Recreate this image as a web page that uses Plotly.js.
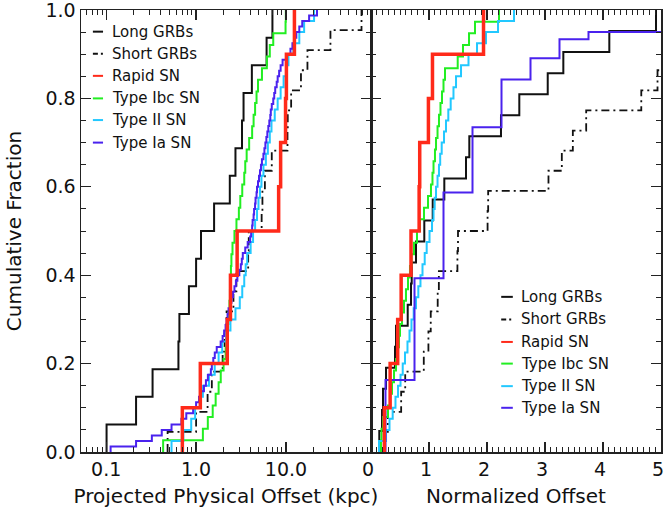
<!DOCTYPE html>
<html>
<head>
<meta charset="utf-8">
<script src="https://cdn.plot.ly/plotly-3.0.1.min.js"></script>
<style>html,body{margin:0;padding:0;background:#fff;}#chart{width:665px;height:515px;}</style>
</head>
<body>
<div id="chart"></div>
<script>
// ---------- DATA ----------
var seriesNames = ['Long GRBs', 'Short GRBs', 'Rapid SN', 'Type Ibc SN', 'Type II SN', 'Type Ia SN'];

// Left panel: projected physical offset (kpc), sorted values
var leftLong = [0.101, 0.215, 0.328, 0.636, 0.652, 0.832, 1.00, 1.134, 1.585, 2.37, 2.74, 3.24, 3.37, 4.17, 6.08, 7.06];
var leftShort = [0.482, 1.00, 1.342, 1.496, 1.973, 2.075, 2.182, 2.602, 2.806, 3.795, 3.85, 5.358, 5.466, 5.821, 6.942, 10.38, 10.45, 11.40, 14.66, 17.31, 31.19, 69.1];
var leftRapid = [0.703, 1.114, 2.22, 2.41, 2.86, 8.28, 8.71, 9.88, 10.1, 12.4];
var leftIbc = [0.430, 1.19, 1.35, 1.53, 1.65, 1.78, 1.88, 2.02, 2.13, 2.18, 2.24, 2.29, 2.35, 2.38, 2.41, 2.44, 2.47, 2.54, 2.67, 2.81, 2.99, 3.10, 3.26, 3.43, 3.52, 3.65, 3.89, 4.20, 4.36, 4.53, 4.70, 4.88, 5.40, 6.12, 6.60, 7.21, 9.88, 9.95];
var leftII = [0.533, 0.721, 0.882, 0.975, 1.106, 1.19, 1.39, 1.61, 1.78, 1.95, 2.15, 2.41, 2.74, 3.06, 3.26, 3.43, 3.56, 3.70, 4.04, 4.30, 4.53, 4.76, 4.94, 5.13, 5.33, 5.61, 5.97, 6.28, 6.60, 6.89, 7.49, 8.07, 8.71, 9.40, 10.0, 10.65, 12.08, 14.05, 15.9, 20.5];
var leftIa = [0.112, 0.215, 0.322, 0.415, 0.533, 0.686, 0.778, 0.927, 1.0, 1.078,
  1.134, 1.223, 1.286, 1.352, 1.459, 1.496, 1.553, 1.613, 1.696, 1.876,
  1.973, 2.049, 2.128, 2.182, 2.237, 2.295, 2.383, 2.474, 2.570, 2.669,
  2.771, 2.877, 3.026, 3.143, 3.223, 3.305, 3.519, 3.748, 3.992, 4.093,
  4.198, 4.250, 4.358, 4.413, 4.526, 4.583, 4.700, 4.760, 4.881, 5.006,
  5.133, 5.264, 5.398, 5.605, 5.748, 5.894, 6.044, 6.198, 6.357, 6.519,
  6.685, 6.770, 6.942, 7.210, 7.394, 7.582, 7.874, 8.074, 8.385, 8.708,
  9.157, 10.13, 11.20, 11.78, 12.38, 13.02, 14.05, 15.15, 18.06, 22.10];

// Right panel: normalized offset, sorted values
var rightLong = [0.143, 0.19, 0.207, 0.259, 0.414, 0.431, 0.633, 0.690, 0.702, 0.776, 0.919, 1.064, 1.264, 1.638, 1.695, 2.241, 2.557, 3.047, 3.316, 4.109, 4.914];
var rightShort = [0.24, 0.29, 0.52, 0.59, 0.91, 0.99, 1.03, 1.15, 1.17, 1.49, 1.50, 2.01, 2.02, 3.06, 3.29, 3.48, 3.71, 4.66, 4.94, 5.8, 7.5, 12.0];
var rightRapid = [0.23, 0.33, 0.46, 0.52, 0.69, 0.83, 0.84, 0.99, 1.06, 1.94];
var rightIbc = [0.172, 0.181, 0.207, 0.293, 0.328, 0.362, 0.397, 0.431, 0.457, 0.483, 0.5, 0.534, 0.569, 0.603, 0.638, 0.672, 0.698, 0.741, 0.793, 0.845, 0.914, 0.983, 1.034, 1.06, 1.078, 1.103, 1.121, 1.147, 1.172, 1.198, 1.224, 1.25, 1.276, 1.495, 1.586, 1.69, 1.793, 2.207];
var rightII = [0.138, 0.259, 0.319, 0.374, 0.422, 0.466, 0.509, 0.547, 0.586, 0.629, 0.664, 0.698, 0.736, 0.776, 0.816, 0.853, 0.888, 0.926, 0.960, 1.009, 1.052, 1.078, 1.098, 1.121, 1.147, 1.172, 1.193, 1.219, 1.259, 1.293, 1.333, 1.374, 1.422, 1.466, 1.552, 1.681, 1.828, 1.983, 2.190, 2.466];
// Type Ia (right panel) is a binned cumulative distribution
var rightIaBins = [0.25, 0.75, 1.25, 1.75, 2.25, 2.75, 3.25, 3.75, 4.25, 4.75, 5.25];
var rightIaCum = [0.163, 0.393, 0.587, 0.735, 0.843, 0.891, 0.934, 0.950, 0.950, 0.950, 0.950];

var leftTickVals = [0.1, 1, 10];
var leftTickText = ['0.1', '1.0', '10.0'];
var leftMinorVals = [0.06, 0.07, 0.08, 0.09, 0.2, 0.3, 0.4, 0.5, 0.6, 0.7, 0.8, 0.9, 2, 3, 4, 5, 6, 7, 8, 9, 20, 30, 40, 50, 60, 70, 80];
var rightTickVals = [0, 1, 2, 3, 4, 5];
var rightTickText = ['0', '1', '2', '3', '4', '5'];
var yTickVals = [0, 0.2, 0.4, 0.6, 0.8, 1.0];
var yTickText = ['0.0', '0.2', '0.4', '0.6', '0.8', '1.0'];

// ---------- STYLE ----------
var FONT = 'DejaVu Sans, Arial, sans-serif';
var styles = [
  {color: '#111111', width: 2, dash: 'solid'},
  {color: '#111111', width: 1.8, dash: '8px,4px,2px,4px'},
  {color: '#ff2a1a', width: 3.5, dash: 'solid'},
  {color: '#22ee22', width: 2, dash: 'solid'},
  {color: '#22c8ff', width: 2, dash: 'solid'},
  {color: '#4a22ee', width: 2, dash: 'solid'}
];

function cdf(vals) {
  var n = vals.length, xs = [vals[0]], ys = [0];
  for (var i = 0; i < n; i++) { xs.push(vals[i]); ys.push((i + 1) / n); }
  return {x: xs, y: ys};
}
function cum(bins, c) {
  var xs = [bins[0]], ys = [0];
  for (var i = 0; i < bins.length; i++) { xs.push(bins[i]); ys.push(c[i]); }
  return {x: xs, y: ys};
}

var leftData = [cdf(leftLong), cdf(leftShort), cdf(leftRapid), cdf(leftIbc), cdf(leftII), cdf(leftIa)];
var rightData = [cdf(rightLong), cdf(rightShort), cdf(rightRapid), cdf(rightIbc), cdf(rightII), cum(rightIaBins, rightIaCum)];
var drawOrder = [0, 1, 3, 4, 5, 2];

var traces = [];
drawOrder.forEach(function (i) {
  traces.push({x: leftData[i].x, y: leftData[i].y, xaxis: 'x', yaxis: 'y', type: 'scatter', mode: 'lines',
    name: seriesNames[i], showlegend: false, line: {shape: 'hv', color: styles[i].color, width: styles[i].width, dash: styles[i].dash}});
});
drawOrder.forEach(function (i) {
  traces.push({x: rightData[i].x, y: rightData[i].y, xaxis: 'x2', yaxis: 'y2', type: 'scatter', mode: 'lines',
    name: seriesNames[i], showlegend: false, line: {shape: 'hv', color: styles[i].color, width: styles[i].width, dash: styles[i].dash}});
});

// legends drawn as text + short line samples inside each panel
var shapes = [], annotations = [];
function addLegend(xr, yr, x0, x1, xt, rowsY) {
  for (var i = 0; i < seriesNames.length; i++) {
    shapes.push({type: 'line', xref: xr, yref: yr, x0: x0, x1: x1, y0: rowsY[i], y1: rowsY[i],
      line: {color: styles[i].color, width: 2, dash: i === 1 ? '5px,3px,2px,3px' : 'solid'}});
    annotations.push({xref: xr, yref: yr, x: xt, y: rowsY[i], xanchor: 'left', yanchor: 'middle', showarrow: false,
      text: seriesNames[i], font: {family: FONT, size: 15, color: '#111'}});
  }
}
addLegend('x domain', 'y domain', 0.041, 0.076, 0.100, [0.951, 0.901, 0.851, 0.800, 0.751, 0.700]);
addLegend('x2 domain', 'y2 domain', 0.449, 0.489, 0.512, [0.351, 0.300, 0.249, 0.200, 0.149, 0.100]);

var axCommon = {showline: true, linecolor: '#222', linewidth: 1.5, mirror: 'ticks', ticks: 'inside', ticklen: 10,
  tickwidth: 1.3, tickcolor: '#222', showgrid: false, zeroline: false, ticklabeloverflow: 'allow',
  tickfont: {family: FONT, size: 19, color: '#111'}};

var layout = {
  width: 665, height: 515,
  margin: {l: 81, r: 4, t: 10, b: 63},
  paper_bgcolor: '#fff', plot_bgcolor: '#fff',
  showlegend: false,
  xaxis: Object.assign({}, axCommon, {type: 'log', domain: [0, 0.5], range: [-1.28, 1.945], anchor: 'y',
    tickmode: 'array', tickvals: leftTickVals, ticktext: leftTickText,
    minor: {tickmode: 'array', tickvals: leftMinorVals, ticks: 'inside', ticklen: 5, tickwidth: 1, tickcolor: '#222'},
    title: {text: 'Projected Physical Offset (kpc)', font: {family: FONT, size: 20, color: '#111'}, standoff: 9}}),
  xaxis2: Object.assign({}, axCommon, {domain: [0.5, 1], range: [0, 5], anchor: 'y2',
    tickmode: 'array', tickvals: rightTickVals, ticktext: rightTickText, ticklabelshift: -3,
    minor: {dtick: 0.1, tick0: 0, ticks: 'inside', ticklen: 5, tickwidth: 1, tickcolor: '#222'},
    title: {text: 'Normalized Offset', font: {family: FONT, size: 20, color: '#111'}, standoff: 9}}),
  yaxis: Object.assign({}, axCommon, {domain: [0, 1], range: [0, 1], anchor: 'x',
    tickmode: 'array', tickvals: yTickVals, ticktext: yTickText,
    minor: {dtick: 0.05, tick0: 0, ticks: 'inside', ticklen: 5, tickwidth: 1, tickcolor: '#222'},
    title: {text: 'Cumulative Fraction', font: {family: FONT, size: 20, color: '#111'}, standoff: 18}}),
  yaxis2: Object.assign({}, axCommon, {domain: [0, 1], range: [0, 1], anchor: 'x2', showticklabels: false,
    tickmode: 'array', tickvals: yTickVals,
    minor: {dtick: 0.05, tick0: 0, ticks: 'inside', ticklen: 5, tickwidth: 1, tickcolor: '#222'}}),
  shapes: shapes,
  annotations: annotations
};

Plotly.newPlot('chart', traces, layout, {staticPlot: true, displayModeBar: false});
</script>
</body>
</html>
